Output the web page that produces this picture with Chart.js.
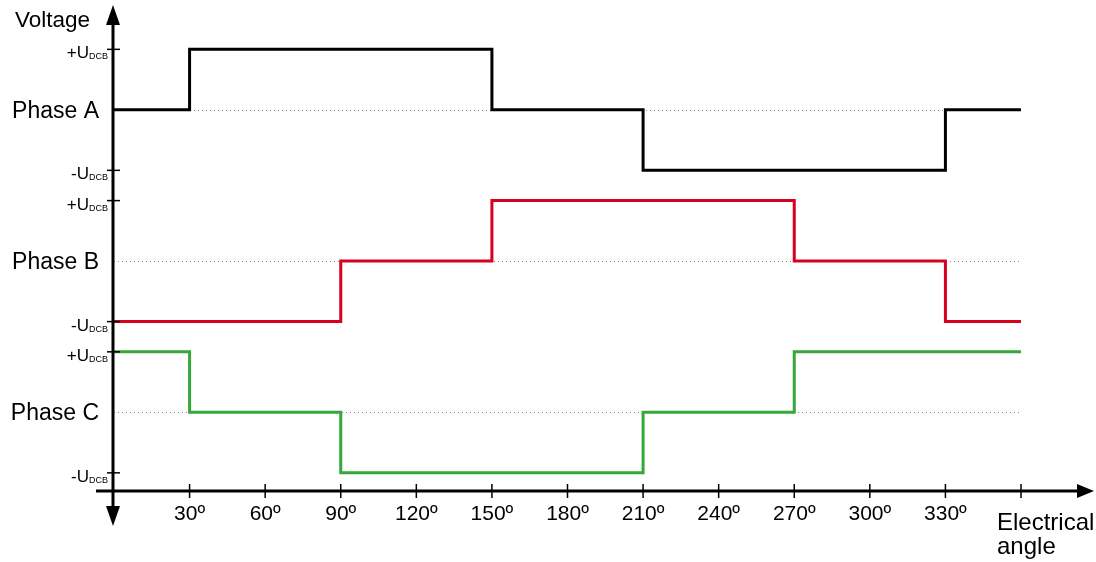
<!DOCTYPE html>
<html>
<head>
<meta charset="utf-8">
<script src="https://cdn.jsdelivr.net/npm/chart.js@4/dist/chart.umd.min.js"></script>
<style>
  html, body { margin: 0; padding: 0; background: #fff; }
  #wrap { width: 1096px; height: 562px; }
</style>
</head>
<body>
<div id="wrap"><canvas id="myChart" width="1096" height="562"></canvas></div>
<script>
// electrical angle (deg), one point per 30 deg
var angles = [0, 30, 60, 90, 120, 150, 180, 210, 240, 270, 300, 330, 360];
// phase voltage in units of U_DCB, value holds until next angle
var phaseA = [0, 1, 1, 1, 1, 0, 0, -1, -1, -1, -1, 0, 0];
var phaseB = [-1, -1, -1, 0, 0, 1, 1, 1, 1, 0, 0, -1, -1];
var phaseC = [1, 0, 0, -1, -1, -1, -1, 0, 0, 1, 1, 1, 1];
var phaseNames = ['Phase A', 'Phase B', 'Phase C'];
var phaseOffsets = [5, 2.5, 0];   // vertical stacking of the three traces
var xTickValues = [30, 60, 90, 120, 150, 180, 210, 240, 270, 300, 330, 360];
var xTickLabels = ['30º', '60º', '90º', '120º', '150º', '180º', '210º', '240º', '270º', '300º', '330º', ''];
var colors = ['#000000', '#d7001e', '#36a83a'];

function toPoints(vals, off) {
    return angles.map(function (a, i) { return { x: a, y: vals[i] + off }; });
}

var FONT = '"Liberation Sans", Arial, sans-serif';

var axesPlugin = {
    id: 'axesPlugin',
    beforeDatasetsDraw: function (chart) {
        var ctx = chart.ctx, xs = chart.scales.x, ys = chart.scales.y;
        ctx.save();
        // dotted zero lines
        ctx.strokeStyle = '#8a8a8a';
        ctx.lineWidth = 1;
        ctx.setLineDash([1, 3]);
        phaseOffsets.forEach(function (off) {
            var y = Math.round(ys.getPixelForValue(off)) + 0.5;
            ctx.beginPath();
            ctx.moveTo(xs.getPixelForValue(0), y);
            ctx.lineTo(xs.getPixelForValue(360), y);
            ctx.stroke();
        });
        ctx.restore();
    },
    afterDatasetsDraw: function (chart) {
        var ctx = chart.ctx, xs = chart.scales.x, ys = chart.scales.y;
        var ax = xs.getPixelForValue(0) - 1;
        var ay = ys.getPixelForValue(ys.min);
        ctx.save();
        ctx.strokeStyle = '#000';
        ctx.fillStyle = '#000';
        ctx.setLineDash([]);
        // y axis
        ctx.lineWidth = 3;
        ctx.beginPath();
        ctx.moveTo(ax, ay + 20);
        ctx.lineTo(ax, chart.chartArea.top + 15);
        ctx.stroke();
        // x axis
        ctx.beginPath();
        ctx.moveTo(ax - 17, ay);
        ctx.lineTo(xs.getPixelForValue(360) + 60, ay);
        ctx.stroke();
        // arrowheads
        function tri(x1, y1, x2, y2, x3, y3) {
            ctx.beginPath(); ctx.moveTo(x1, y1); ctx.lineTo(x2, y2); ctx.lineTo(x3, y3); ctx.closePath(); ctx.fill();
        }
        var top = chart.chartArea.top;
        tri(ax, top - 2, ax - 7, top + 18, ax + 7, top + 18);
        tri(ax, ay + 35, ax - 7, ay + 15, ax + 7, ay + 15);
        var xr = xs.getPixelForValue(360) + 73;
        tri(xr, ay, xr - 17, ay - 7, xr - 17, ay + 7);
        // x ticks and labels
        ctx.lineWidth = 1.5;
        ctx.font = '21px ' + FONT;
        ctx.textAlign = 'center';
        ctx.textBaseline = 'alphabetic';
        xTickValues.forEach(function (v, i) {
            var x = xs.getPixelForValue(v);
            ctx.beginPath(); ctx.moveTo(x, ay - 7); ctx.lineTo(x, ay + 7); ctx.stroke();
            if (xTickLabels[i]) ctx.fillText(xTickLabels[i], x, ay + 29);
        });
        // y ticks with +U_DCB / -U_DCB
        phaseOffsets.forEach(function (off, p) {
            [1, -1].forEach(function (s) {
                var y = ys.getPixelForValue(off + s);
                ctx.beginPath(); ctx.moveTo(ax - 6, y); ctx.lineTo(ax + 7, y); ctx.stroke();
                ctx.textAlign = 'right';
                ctx.font = '9px ' + FONT;
                var sub = 'DCB';
                var sw = ctx.measureText(sub).width;
                ctx.fillText(sub, ax - 5, y + 10);
                ctx.font = '17px ' + FONT;
                ctx.fillText((s > 0 ? '+' : '-') + 'U', ax - 5 - sw, y + 9);
            });
            // phase name
            ctx.font = '23px ' + FONT;
            ctx.textAlign = 'right';
            ctx.fillText(phaseNames[p], ax - 14, ys.getPixelForValue(off) + 8);
        });
        // axis titles
        ctx.textAlign = 'left';
        ctx.font = '22.5px ' + FONT;
        ctx.fillText('Voltage', 15, top + 20);
        ctx.font = '24px ' + FONT;
        ctx.fillText('Electrical', xs.getPixelForValue(360) - 24, ay + 39);
        ctx.fillText('angle', xs.getPixelForValue(360) - 24, ay + 63);
        ctx.restore();
    }
};

var datasets = [phaseA, phaseB, phaseC].map(function (vals, i) {
    return {
        label: phaseNames[i],
        data: toPoints(vals, phaseOffsets[i]),
        borderColor: colors[i],
        borderWidth: 3,
        stepped: 'before',
        pointRadius: 0,
        fill: false,
        clip: false
    };
});

var ctx = document.getElementById('myChart').getContext('2d');
var myChart = new Chart(ctx, {
    type: 'line',
    data: { datasets: datasets },
    options: {
        responsive: false,
        animation: false,
        layout: { padding: { left: 114, right: 75, top: 7, bottom: 71 } },
        plugins: { legend: { display: false }, tooltip: { enabled: false } },
        scales: {
            x: { type: 'linear', min: 0, max: 360, display: false },
            y: { type: 'linear', min: -1.3, max: 6.7, display: false }
        }
    },
    plugins: [axesPlugin]
});
</script>
</body>
</html>
